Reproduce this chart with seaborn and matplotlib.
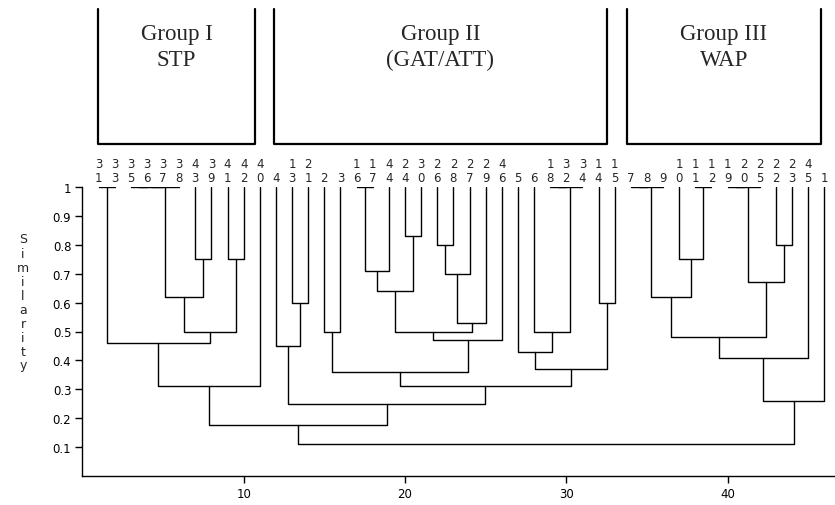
import matplotlib
matplotlib.use("Agg")
import matplotlib.pyplot as plt
from matplotlib.lines import Line2D
import pandas as pd
import seaborn as sns

# Leaf order along the x axis (sample numbers)
leaves = [31, 33, 35, 36, 37, 38, 43, 39, 41, 42, 40, 4, 13, 21, 2, 3, 16, 17,
          44, 24, 30, 26, 28, 27, 29, 46, 5, 6, 18, 32, 34, 14, 15, 7, 8, 9,
          10, 11, 12, 19, 20, 25, 22, 23, 45, 1]

# Agglomeration steps: child A, child B, similarity at which they join.
# Integers are leaves, "mN" refers to the N-th merge of this list.
merge_a = [31, 35, "m1", "m2", 43, 41, "m3", "m6", "m0", "m8",
           13, 4, 2, 16, "m13", 24, "m14", 26, "m17", "m18",
           "m16", "m20", "m12", 18, "m23", 6, 5, 14, "m26", "m22",
           "m11", "m9", 7, "m32", 11, 10, "m33", 19, "m37", 22,
           "m38", "m36", "m41", "m42", "m31"]
merge_b = [33, 36, 37, 38, 39, 42, "m4", "m5", "m7", 40,
           21, "m10", 3, 17, 44, 30, "m15", 28, 27, 29,
           "m19", 46, "m21", 32, 34, "m24", "m25", 15, "m27", "m28",
           "m29", "m30", 8, 9, 12, "m34", "m35", 20, 25, 23,
           "m39", "m40", 45, 1, "m43"]
merge_sim = [1.0, 1.0, 1.0, 1.0, 0.75, 0.75, 0.62, 0.50, 0.46, 0.31,
             0.60, 0.45, 0.50, 1.0, 0.71, 0.83, 0.64, 0.80, 0.70, 0.53,
             0.50, 0.47, 0.36, 1.0, 1.0, 0.50, 0.43, 0.60, 0.37, 0.31,
             0.25, 0.175, 1.0, 1.0, 1.0, 0.75, 0.62, 1.0, 1.0, 0.80,
             0.67, 0.48, 0.41, 0.26, 0.11]

group_names = ["Group I\nSTP", "Group II\n(GAT/ATT)", "Group III\nWAP"]

x_ticks = [10, 20, 30, 40]
y_ticks = [0.1, 0.2, 0.3, 0.4, 0.5, 0.6, 0.7, 0.8, 0.9, 1.0]
y_tick_labels = ["0.1", "0.2", "0.3", "0.4", "0.5", "0.6", "0.7", "0.8", "0.9", "1"]

# ---- dendrogram geometry -------------------------------------------------
pos = {leaf: i + 1 for i, leaf in enumerate(leaves)}
height = {leaf: 1.0 for leaf in leaves}
rows = []
for k, (a, b, s) in enumerate(zip(merge_a, merge_b, merge_sim)):
    xa, xb = pos[a], pos[b]
    pts = [(xa, height[a]), (xa, s), (xb, s), (xb, height[b])]
    for j, (px, py) in enumerate(pts):
        rows.append({"seg": k, "order": j, "x": px, "y": py})
    pos[f"m{k}"] = (xa + xb) / 2
    height[f"m{k}"] = s
segments = pd.DataFrame(rows)

# ---- figure --------------------------------------------------------------
W, H = 835, 506
sns.set_style("ticks")
plt.rcParams["font.family"] = ["DejaVu Sans"]
fig = plt.figure(figsize=(W / 100, H / 100), dpi=100)
ax = fig.add_axes([82.4 / W, 29 / H, (W - 82.4) / W, 289 / H])

sns.lineplot(data=segments, x="x", y="y", units="seg", estimator=None,
             sort=False, color="black", linewidth=1.0, ax=ax, legend=False)

ax.set_xlim(0, (W - 82.4) / 16.13)
ax.set_ylim(0, 1.0)
ax.set_xticks(x_ticks)
ax.set_xticklabels([str(t) for t in x_ticks])
ax.set_yticks(y_ticks)
ax.set_yticklabels(y_tick_labels)
ax.set_xlabel("")
ax.set_ylabel("")
ax.tick_params(axis="both", direction="out", length=5, width=1.0,
               labelsize=8.5, pad=3, colors="black")
for side in ("top", "right"):
    ax.spines[side].set_visible(False)
for side in ("left", "bottom"):
    ax.spines[side].set_linewidth(1.0)
    ax.spines[side].set_color("black")

# leaf numbers written vertically: tens digit above units digit
for leaf in leaves:
    x = pos[leaf]
    ax.annotate(str(leaf % 10), xy=(x, 1.0), xytext=(0, 7.0),
                textcoords="offset points", ha="center", va="center",
                fontsize=8.5, annotation_clip=False)
    if leaf >= 10:
        ax.annotate(str(leaf // 10), xy=(x, 1.0), xytext=(0, 17.0),
                    textcoords="offset points", ha="center", va="center",
                    fontsize=8.5, annotation_clip=False)

# axis title, one letter per line
fig.text(23 / W, 1 - 303 / H, "\n".join("Similarity"), ha="center",
         va="center", fontsize=9, linespacing=1.1)

# open boxes naming the three groups
box_px = [(98, 255), (274, 607), (627, 821)]
box_top, box_bottom = 10, 145
for (x0, x1), name in zip(box_px, group_names):
    fig.add_artist(Line2D([x0 / W, x0 / W, x1 / W, x1 / W],
                          [1 - box_top / H, 1 - box_bottom / H,
                           1 - box_bottom / H, 1 - box_top / H],
                          transform=fig.transFigure, color="black",
                          linewidth=1.6))
    fig.text((x0 + x1) / 2 / W, 1 - 24 / H, name, ha="center", va="top",
             fontsize=16.5, family="Liberation Serif", linespacing=1.3)

fig.savefig("out.png", dpi=100)
